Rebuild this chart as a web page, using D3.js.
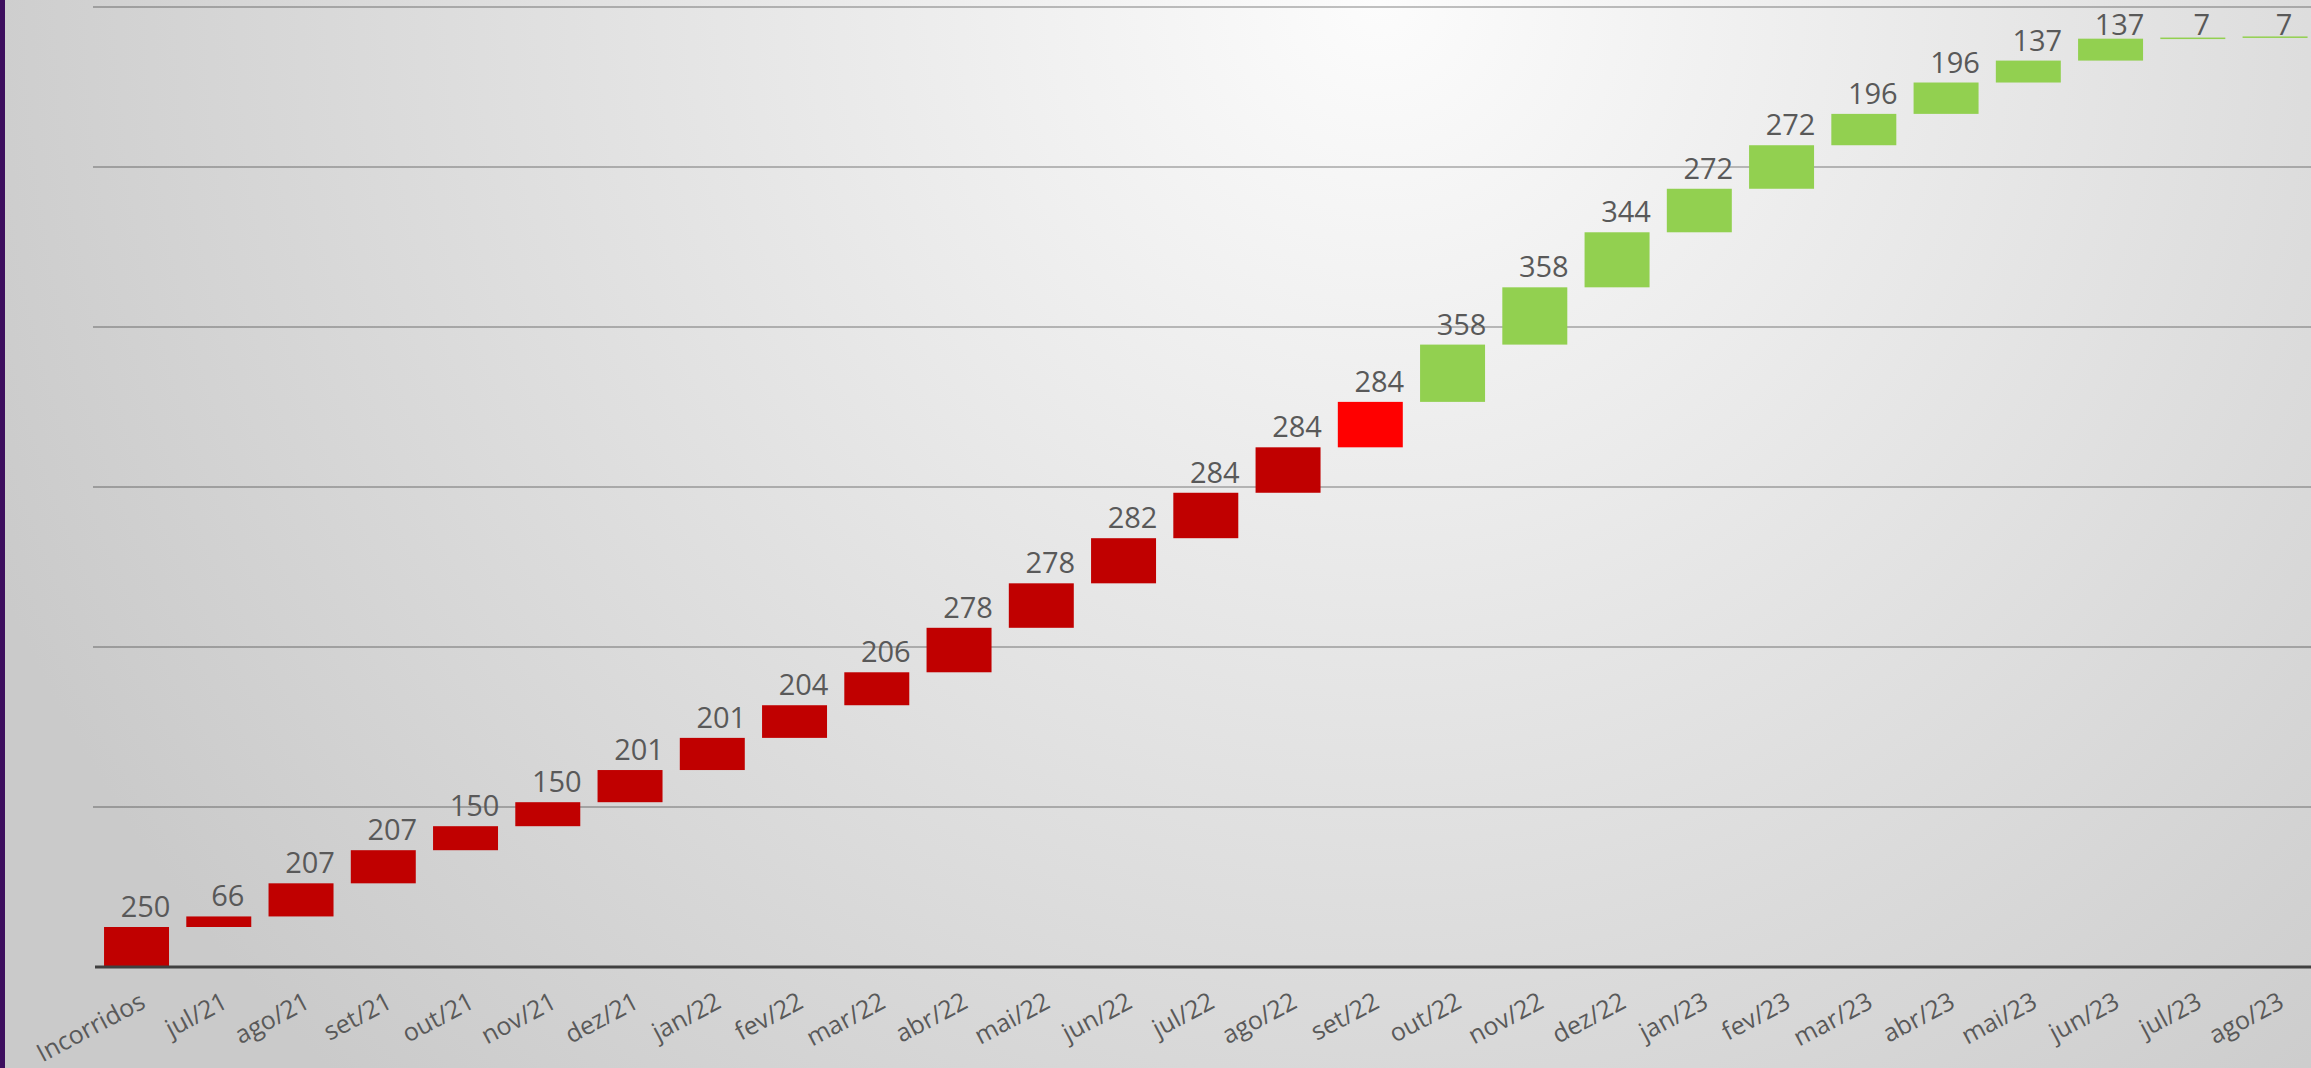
<!DOCTYPE html>
<html>
<head>
<meta charset="utf-8">
<script src="https://cdn.jsdelivr.net/npm/d3@7"></script>
<style>
	html, body { margin: 0; padding: 0; overflow: hidden; }
	text { font-family: 'Open Sans', 'Noto Sans', sans-serif; }
</style>
</head>
<body>
<script>
// meses do cronograma
const categories = ['Incorridos', 'jul/21', 'ago/21', 'set/21', 'out/21', 'nov/21', 'dez/21',
	'jan/22', 'fev/22', 'mar/22', 'abr/22', 'mai/22', 'jun/22', 'jul/22', 'ago/22', 'set/22',
	'out/22', 'nov/22', 'dez/22', 'jan/23', 'fev/23', 'mar/23', 'abr/23', 'mai/23', 'jun/23',
	'jul/23', 'ago/23'];

const values = [250, 66, 207, 207, 150, 150, 201, 201, 204, 206, 278, 278, 282, 284, 284, 284,
	358, 358, 344, 272, 272, 196, 196, 137, 137, 7, 7];

// realizado / mes atual / previsto
const status = ['real', 'real', 'real', 'real', 'real', 'real', 'real', 'real', 'real', 'real',
	'real', 'real', 'real', 'real', 'real', 'atual', 'prev', 'prev', 'prev', 'prev', 'prev', 'prev',
	'prev', 'prev', 'prev', 'prev', 'prev'];

const gridTicks = [1000, 2000, 3000, 4000, 5000, 6000];

let width = 2311;
let height = 1068;

const colors = { real: '#C00000', atual: '#FF0000', prev: '#92D050' };

const ends = Array.from(d3.cumsum(values));
const rows = categories.map((c, i) => ({
	cat: c,
	value: values[i],
	start: ends[i] - values[i],
	end: ends[i],
	status: status[i]
}));

let svg = d3.select('body').append('svg')
	.attr('width', width)
	.attr('height', height);

// fundo em gradiente
let defs = svg.append('defs');
let grad = defs.append('radialGradient')
	.attr('id', 'bg')
	.attr('gradientUnits', 'userSpaceOnUse')
	.attr('cx', 1380).attr('cy', 0).attr('r', 1500);
grad.append('stop').attr('offset', '0%').attr('stop-color', '#fcfcfc');
grad.append('stop').attr('offset', '100%').attr('stop-color', '#cacaca');

svg.append('rect')
	.attr('width', width)
	.attr('height', height)
	.style('fill', 'url(#bg)');

svg.append('rect')
	.attr('x', 0).attr('y', 0)
	.attr('width', 5).attr('height', height)
	.style('fill', '#3d0e5e');

let x = d3.scaleBand()
	.domain(categories)
	.range([95.4, 2316.2])
	.paddingInner(0.21)
	.paddingOuter(0.105);

let y = d3.scaleLinear()
	.domain([0, 6000])
	.range([967, 7]);

// linhas de grade
svg.append('g')
	.selectAll('line')
	.data(gridTicks)
	.join('line')
	.attr('x1', 93).attr('x2', width)
	.attr('y1', d => y(d)).attr('y2', d => y(d))
	.style('stroke', 'rgba(0, 0, 0, 0.24)')
	.style('stroke-width', 2);

// barras
svg.append('g')
	.selectAll('rect')
	.data(rows)
	.join('rect')
	.attr('x', d => x(d.cat))
	.attr('width', x.bandwidth())
	.attr('y', d => y(d.end))
	.attr('height', d => Math.max(1.5, y(d.start) - y(d.end)))
	.style('fill', d => colors[d.status]);

// rotulos de dados (o excel empurra para baixo os que passam do topo)
svg.append('g')
	.selectAll('text')
	.data(rows)
	.join('text')
	.attr('x', d => x(d.cat) + x.bandwidth() / 2 + 9)
	.attr('y', d => Math.max(y(d.end) - 10, 35))
	.attr('text-anchor', 'middle')
	.style('font-size', '29px')
	.style('fill', '#595959')
	.text(d => d.value);

// eixo x
let xAxis = svg.append('g')
	.attr('transform', 'translate(0,' + y(0) + ')')
	.call(d3.axisBottom(x).tickSize(0).tickPadding(0));

xAxis.select('.domain').remove();
xAxis.append('line')
	.attr('x1', 95).attr('x2', width)
	.attr('y1', 0).attr('y2', 0)
	.style('stroke', '#404040')
	.style('stroke-width', 3);

xAxis.selectAll('.tick text')
	.attr('x', 0)
	.attr('y', 0)
	.attr('dy', '0.72em')
	.attr('text-anchor', 'end')
	.attr('transform', 'translate(2,24) rotate(-28)')
	.style('font-size', '25px')
	.style('font-family', "'Open Sans', sans-serif")
	.style('fill', '#595959');
</script>
</body>
</html>
